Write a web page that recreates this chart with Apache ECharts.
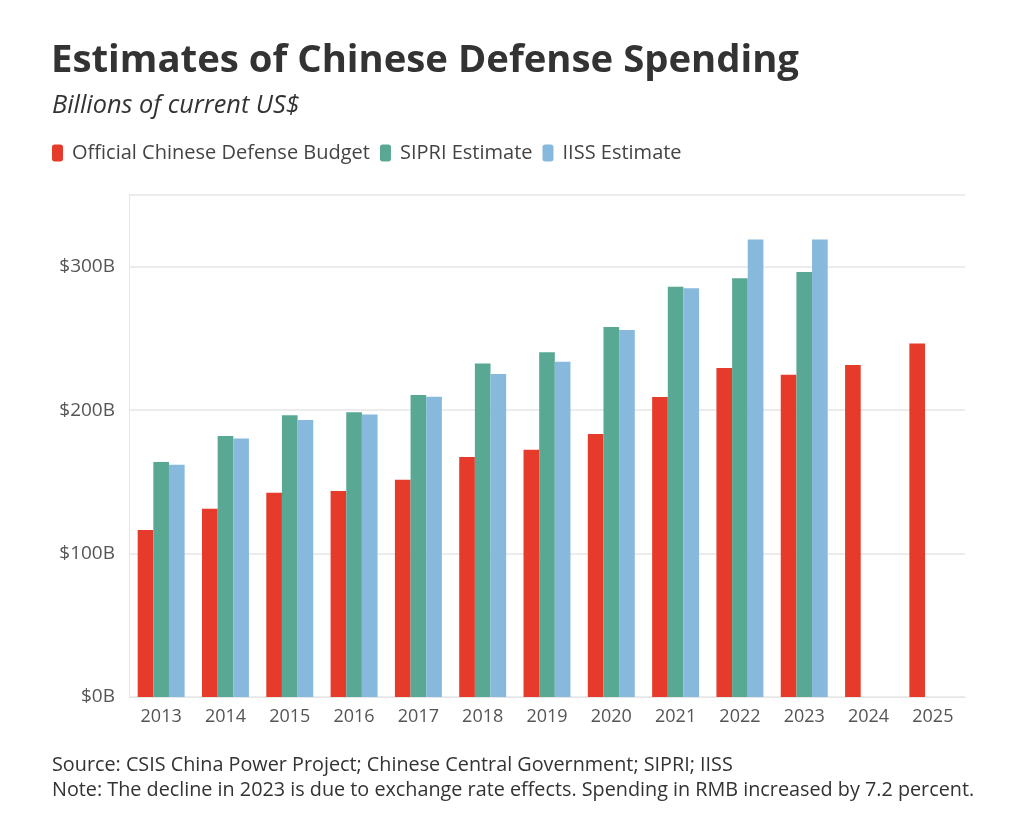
<!DOCTYPE html>
<html>
<head>
<meta charset="utf-8">
<script src="https://cdn.jsdelivr.net/npm/echarts@6/dist/echarts.min.js"></script>
<style>
  html, body { margin: 0; padding: 0; background: #fff; }
  #main { width: 1024px; height: 832px; }
</style>
</head>
<body>
<div id="main"></div>
<script>
// data
const years = ['2013', '2014', '2015', '2016', '2017', '2018', '2019', '2020', '2021', '2022', '2023', '2024', '2025']
const official = [116.4, 131.2, 142.4, 143.6, 151.5, 167.4, 172.3, 183.4, 209.1, 229.3, 224.7, 231.4, 246.5]
const sipri = [163.9, 182.0, 196.5, 198.6, 210.5, 232.6, 240.3, 258.0, 286.0, 292.0, 296.4, null, null]
const iiss = [162.0, 180.2, 193.2, 196.9, 209.3, 225.2, 233.8, 255.9, 285.0, 319.0, 319.0, null, null]
const yTicks = [0, 100, 200, 300]

const FONT = 'Open Sans'
const chart = echarts.init(document.getElementById('main'))

const bar = (name, data, color) => ({
  name: name,
  type: 'bar',
  data: data,
  barGap: '0%',
  barCategoryGap: '27%',
  itemStyle: { color: color },
  emphasis: { disabled: true }
})

chart.setOption({
  animation: false,
  backgroundColor: '#ffffff',
  textStyle: { fontFamily: FONT },
  title: [
    {
      text: 'Estimates of Chinese Defense Spending',
      left: 51,
      top: 42,
      padding: 0,
      textStyle: { fontFamily: FONT, fontSize: 38.3, fontWeight: 'bold', color: '#333333' }
    },
    {
      text: 'Billions of current US$',
      left: 52,
      top: 93,
      padding: 0,
      textStyle: { fontFamily: FONT, fontSize: 25.3, fontStyle: 'italic', fontWeight: 'normal', color: '#333333' }
    },
    {
      text: 'Source: CSIS China Power Project; Chinese Central Government; SIPRI; IISS',
      left: 52,
      top: 755,
      padding: 0,
      textStyle: { fontFamily: FONT, fontSize: 19.8, fontWeight: 'normal', color: '#333333' }
    },
    {
      text: 'Note: The decline in 2023 is due to exchange rate effects. Spending in RMB increased by 7.2 percent.',
      left: 52,
      top: 780,
      padding: 0,
      textStyle: { fontFamily: FONT, fontSize: 19.8, fontWeight: 'normal', color: '#333333' }
    }
  ],
  legend: {
    left: 52,
    top: 143,
    padding: 0,
    icon: 'roundRect',
    itemWidth: 11,
    itemHeight: 17,
    itemGap: 10,
    selectedMode: false,
    textStyle: { fontFamily: FONT, fontSize: 20, color: '#444444', padding: [0, 0, 0, 4] },
    data: ['Official Chinese Defense Budget', 'SIPRI Estimate', 'IISS Estimate']
  },
  grid: { left: 129, right: 59, top: 195, bottom: 135, containLabel: false },
  xAxis: {
    type: 'category',
    data: years,
    axisLine: { lineStyle: { color: '#e6e6e6' } },
    axisTick: { alignWithLabel: true, length: 6, lineStyle: { color: '#e6e6e6' } },
    axisLabel: { fontFamily: FONT, fontSize: 18, color: '#555555', margin: 11 }
  },
  yAxis: {
    type: 'value',
    min: 0,
    max: 350,
    interval: 100,
    axisLine: { show: true, lineStyle: { color: '#e6e6e6' } },
    axisTick: { show: false },
    splitLine: { lineStyle: { color: '#ececec', width: 2 } },
    axisLabel: {
      fontFamily: FONT,
      fontSize: 19,
      color: '#555555',
      margin: 14,
      formatter: (v) => (yTicks.includes(v) ? '$' + v + 'B' : '')
    }
  },
  series: [
    bar('Official Chinese Defense Budget', official, '#e63a2b'),
    bar('SIPRI Estimate', sipri, '#59a894'),
    bar('IISS Estimate', iiss, '#86b9dc')
  ]
})

window.onresize = function () {
  chart.resize()
}
</script>
</body>
</html>
